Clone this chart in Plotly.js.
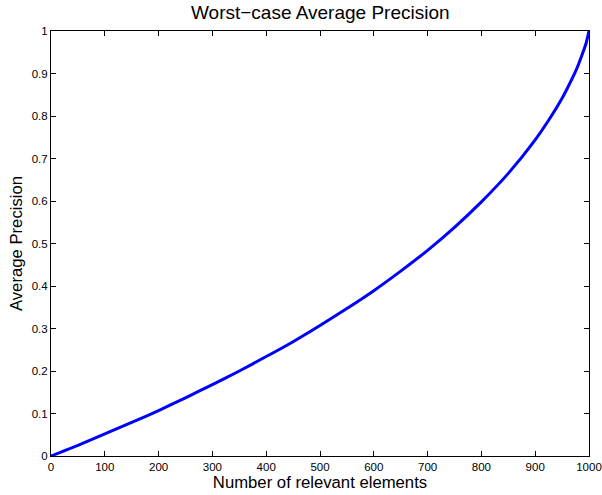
<!DOCTYPE html>
<html>
<head>
<meta charset="utf-8">
<script src="https://cdn.plot.ly/plotly-3.0.1.min.js"></script>
<style>html,body{margin:0;padding:0;background:#fff;}#chart{width:602px;height:495px;}</style>
</head>
<body>
<div id="chart"></div>
<script>
// Number of relevant elements (x) and worst-case average precision (y)
const relevantElements = [0, 50, 100, 150, 200, 250, 300, 350, 400, 450, 500, 550, 600, 650, 700, 750, 800, 850, 900, 925, 950, 960, 975, 980, 990, 995, 1000];
const averagePrecision = [0, 0.025, 0.052, 0.079, 0.107, 0.137, 0.168, 0.200, 0.234, 0.269, 0.307, 0.347, 0.389, 0.435, 0.484, 0.538, 0.598, 0.665, 0.744, 0.790, 0.842, 0.866, 0.905, 0.920, 0.954, 0.973, 1.0];
const xTicks = [0, 100, 200, 300, 400, 500, 600, 700, 800, 900, 1000];
const yTicks = [0, 0.1, 0.2, 0.3, 0.4, 0.5, 0.6, 0.7, 0.8, 0.9, 1];

const font = "Liberation Sans, Arial, Helvetica, sans-serif";

const trace = {
  x: relevantElements,
  y: averagePrecision,
  type: 'scatter',
  mode: 'lines',
  line: {color: '#0000ff', width: 3, shape: 'spline', smoothing: 0.6},
  hoverinfo: 'x+y'
};

const axisCommon = {
  showgrid: false,
  zeroline: false,
  showline: true,
  linecolor: '#000',
  linewidth: 1,
  mirror: 'allticks',
  ticks: 'inside',
  ticklen: 5,
  tickcolor: '#000',
  tickwidth: 1,
  tickfont: {family: font, size: 11.5, color: '#000'}
};

const layout = {
  width: 602,
  height: 495,
  margin: {l: 51, r: 13, t: 31, b: 39, pad: 0},
  paper_bgcolor: '#fff',
  plot_bgcolor: '#fff',
  showlegend: false,
  font: {family: font, color: '#000'},
  title: {text: 'Worst\u2212case Average Precision', font: {family: font, size: 19, color: '#000'}, x: 0.532, xanchor: 'center', yref: 'container', y: 0.976, yanchor: 'middle'},
  xaxis: Object.assign({}, axisCommon, {
    range: [0, 1000],
    tickmode: 'array',
    tickvals: xTicks,
    ticktext: xTicks.map(String),
    title: {text: 'Number of relevant elements', font: {family: font, size: 16.7, color: '#000'}, standoff: 1}
  }),
  yaxis: Object.assign({}, axisCommon, {
    range: [0, 1],
    tickmode: 'array',
    tickvals: yTicks,
    ticktext: yTicks.map(String),
    title: {text: 'Average Precision', font: {family: font, size: 16.7, color: '#000'}, standoff: 4}
  })
};

Plotly.newPlot('chart', [trace], layout, {displayModeBar: false, staticPlot: true});
</script>
</body>
</html>
